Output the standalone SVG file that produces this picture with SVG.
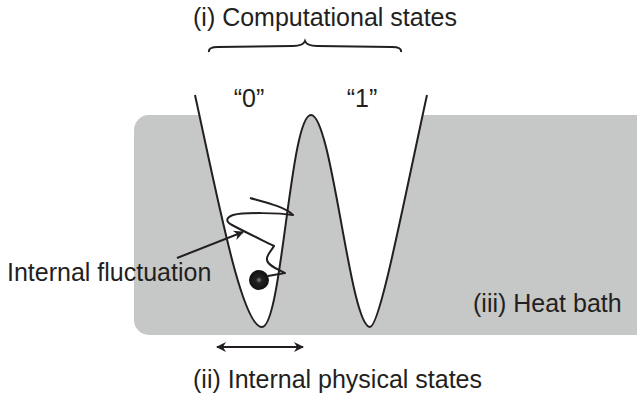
<svg xmlns="http://www.w3.org/2000/svg" width="637" height="393" viewBox="0 0 637 393">
<style>
text{font-family:"Liberation Sans",Arial,sans-serif;fill:#231f20;font-size:25px}
.ln{fill:none;stroke:#231f20;stroke-width:2}
</style>
<defs>
<marker id="ah" viewBox="0 0 10 10" refX="9" refY="5" markerWidth="13" markerHeight="10" orient="auto-start-reverse" markerUnits="userSpaceOnUse"><path d="M0,0 L10,5 L0,10 L3,5 Z" fill="#231f20"/></marker>
<radialGradient id="bg" cx="0.5" cy="0.5" r="0.5"><stop offset="0" stop-color="#888"/><stop offset="0.3" stop-color="#222"/><stop offset="1" stop-color="#111"/></radialGradient>
</defs>
<rect width="637" height="393" fill="#fff"/>
<g id="heat-bath"><rect x="134" y="115" width="520" height="220" rx="15" fill="#c6c7c7"/><text x="473" y="312">(iii) Heat bath</text></g>
<g id="potential"><path d="M195,95 C218,200 242,327 262,327 C282,327 290,115 311,115 C332,115 350,327 370,327 C380,327 404,200 427,95" fill="#fff" stroke="#231f20" stroke-width="2"/></g>
<g id="labels">
<text x="193" y="26">(i) Computational states</text>
<text x="249" y="107" text-anchor="middle">“0”</text>
<text x="362" y="107" text-anchor="middle">“1”</text>
<text x="7" y="281">Internal fluctuation</text>
<text x="193" y="388">(ii) Internal physical states</text>
</g>
<g id="brace"><path class="ln" stroke-width="3.5" d="M209,52 Q208,47 218,47 L293,46 Q303,46 305,41 Q307,46 317,46 L392,47 Q402,47 401,52"/></g>
<g id="particle"><path class="ln" stroke-width="3" stroke-linejoin="round" d="M250,198 C268,203 285,207 293,215 C280,213 245,212 233,215 C225,218 226,222 232,225 C245,232 262,240 274,246 C272,250 266,255 267,260 C268,266 278,269 285,273 L268,276"/><circle cx="259" cy="280" r="10" fill="url(#bg)"/></g>
<g id="connectors">
<line class="ln" x1="177" y1="258" x2="243" y2="232" stroke-width="1.5" marker-end="url(#ah)"/>
<line class="ln" x1="217" y1="347" x2="303" y2="347" stroke-width="1.5" marker-start="url(#ah)" marker-end="url(#ah)"/>
</g>
</svg>
